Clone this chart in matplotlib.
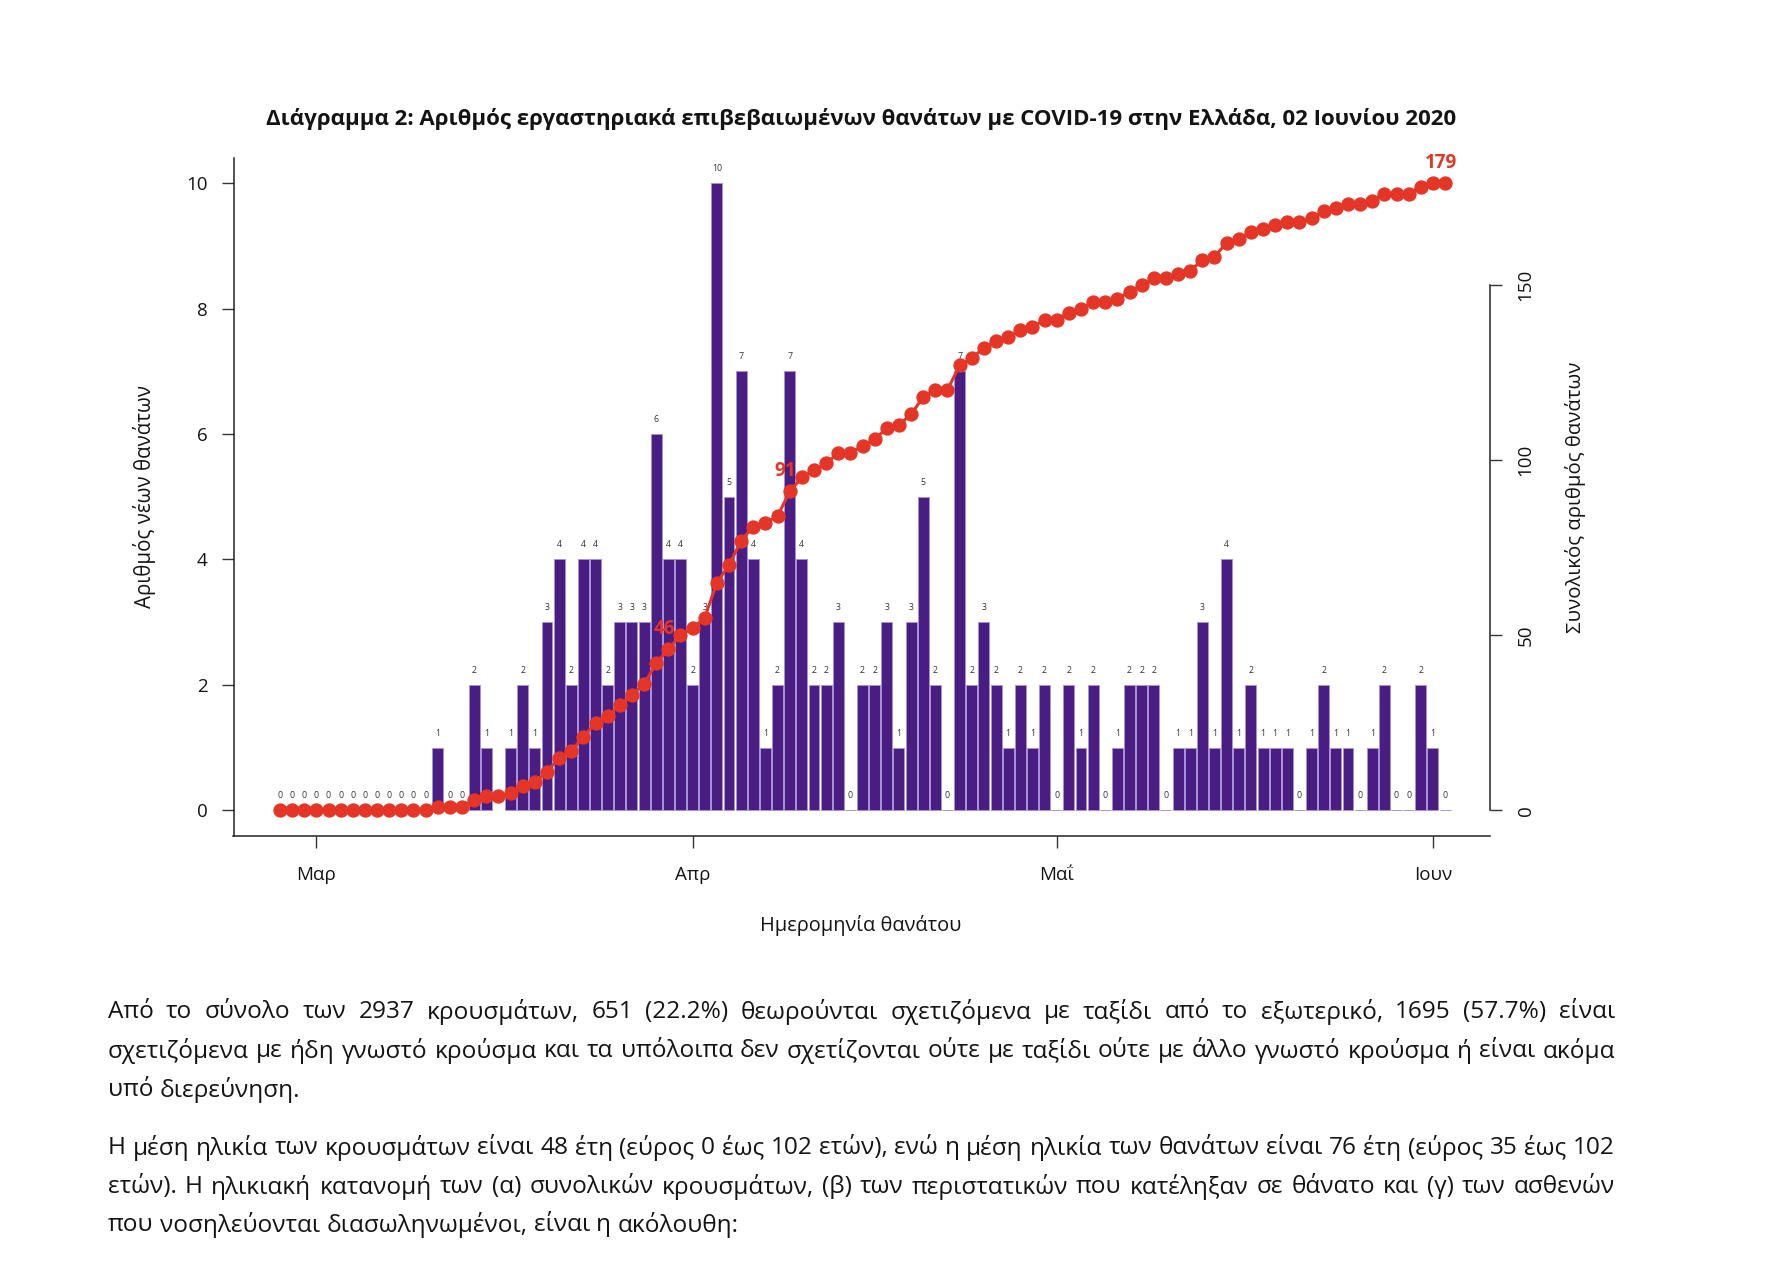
import numpy as np
import pandas as pd
import matplotlib
matplotlib.use('Agg')
import matplotlib.pyplot as plt
import matplotlib.dates as mdates

plt.rcParams['font.family'] = ['Open Sans', 'DejaVu Sans']

# daily deaths, 27 Feb - 2 Jun 2020 (nan = no value shown for that day)
dates = pd.date_range('2020-02-27', '2020-06-02', freq='D')
new_deaths = [0, 0, 0, 0, 0, 0, 0, 0, 0, 0,
              0, 0, 0, 1, 0, 0, 2, 1, np.nan, 1,
              2, 1, 3, 4, 2, 4, 4, 2, 3, 3,
              3, 6, 4, 4, 2, 3, 10, 5, 7, 4,
              1, 2, 7, 4, 2, 2, 3, 0, 2, 2,
              3, 1, 3, 5, 2, 0, 7, 2, 3, 2,
              1, 2, 1, 2, 0, 2, 1, 2, 0, 1,
              2, 2, 2, 0, 1, 1, 3, 1, 4, 1,
              2, 1, 1, 1, 0, 1, 2, 1, 1, 0,
              1, 2, 0, 0, 2, 1, 0]
total_deaths = [0, 0, 0, 0, 0, 0, 0, 0, 0, 0,
                0, 0, 0, 1, 1, 1, 3, 4, 4, 5,
                7, 8, 11, 15, 17, 21, 25, 27, 30, 33,
                36, 42, 46, 50, 52, 55, 65, 70, 77, 81,
                82, 84, 91, 95, 97, 99, 102, 102, 104, 106,
                109, 110, 113, 118, 120, 120, 127, 129, 132, 134,
                135, 137, 138, 140, 140, 142, 143, 145, 145, 146,
                148, 150, 152, 152, 153, 154, 157, 158, 162, 163,
                165, 166, 167, 168, 168, 169, 171, 172, 173, 173,
                174, 176, 176, 176, 178, 179, 179]
highlight = [32, 42, 96]  # days whose running total is written in red

month_ticks = ['2020-03-01', '2020-04-01', '2020-05-01', '2020-06-01']
month_labels = ['Μαρ', 'Απρ', 'Μαΐ', 'Ιουν']

title = ('Διάγραμμα 2: Αριθμός εργαστηριακά επιβεβαιωμένων θανάτων '
         'με COVID-19 στην Ελλάδα, 02 Ιουνίου 2020')
para1 = ['Από το σύνολο των 2937 κρουσμάτων, 651 (22.2%) θεωρούνται σχετιζόμενα με ταξίδι από το εξωτερικό, 1695 (57.7%) είναι',
         'σχετιζόμενα με ήδη γνωστό κρούσμα και τα υπόλοιπα δεν σχετίζονται ούτε με ταξίδι ούτε με άλλο γνωστό κρούσμα ή είναι ακόμα',
         'υπό διερεύνηση.']
para2 = ['Η μέση ηλικία των κρουσμάτων είναι 48 έτη (εύρος 0 έως 102 ετών), ενώ η μέση ηλικία των θανάτων είναι 76 έτη (εύρος 35 έως 102',
         'ετών).  Η ηλικιακή κατανομή των (α) συνολικών κρουσμάτων, (β) των περιστατικών που κατέληξαν σε θάνατο και (γ) των ασθενών',
         'που νοσηλεύονται διασωληνωμένοι, είναι η ακόλουθη:']

PURPLE = '#4a1d82'
EDGE = '#a993d8'
RED = '#e53526'
INK = '#141414'

W, H = 1786, 1261
fig = plt.figure(figsize=(W / 100, H / 100), dpi=100)


def fx(x):
    return x / W


def fy(y):
    return 1 - y / H


ax = fig.add_axes([fx(233.5), fy(835.5), (1490 - 233.5) / W, (835.5 - 158) / H])
ax2 = ax.twinx()

daily = np.array(new_deaths, dtype=float)
ax.bar(dates, daily, width=0.9, color=PURPLE, edgecolor=EDGE, linewidth=0.7)
for d, v in zip(dates, daily):
    if np.isnan(v):
        continue
    ax.annotate(str(int(v)), (d, v), xytext=(0, 10.5), textcoords='offset points',
                ha='center', va='center', fontsize=6.3, color='#333333')

ax2.plot(dates, total_deaths, color=RED, lw=2.2, marker='o', ms=9.3, zorder=3)
for i in highlight:
    ax2.annotate(str(total_deaths[i]), (dates[i], total_deaths[i]), xytext=(-3, 14.5),
                 textcoords='offset points', ha='center', va='center',
                 fontsize=13.5, fontweight='bold', color=RED)

x0 = mdates.date2num(dates[0])
x1 = mdates.date2num(dates[-1])
ax.set_xlim(x0 - 3.83, x1 + 3.7)
ax.set_ylim(-0.4, 10.4)
ax2.set_ylim(-0.04 * 179, 1.04 * 179)

ax.set_yticks([0, 2, 4, 6, 8, 10])
ax.set_xticks(pd.to_datetime(month_ticks))
ax.set_xticklabels(month_labels)
ax.tick_params(axis='both', length=8.6, width=1, color='#333333', labelsize=13.5, labelcolor=INK)
ax.tick_params(axis='y', pad=10)
ax.tick_params(axis='x', pad=13.5)

for s in ['top', 'right']:
    ax.spines[s].set_visible(False)
for s in ['left', 'bottom']:
    ax.spines[s].set_linewidth(1.1)
    ax.spines[s].set_color('#222222')

for s in ['top', 'left', 'bottom']:
    ax2.spines[s].set_visible(False)
ax2.spines['right'].set_bounds(0, 150)
ax2.spines['right'].set_linewidth(1.1)
ax2.spines['right'].set_color('#222222')
ax2.set_yticks([0, 50, 100, 150])
ax2.tick_params(axis='y', length=8.6, width=1, color='#333333', labelsize=13.5,
                labelcolor=INK, pad=10.5, labelrotation=90)
for lab in ax2.get_yticklabels():
    lab.set_va('center')

fig.text(fx(145), fy(497), 'Αριθμός νέων θανάτων', rotation=90, ha='center', va='center',
         fontsize=14.8, color=INK)
fig.text(fx(1575), fy(497), 'Συνολικός αριθμός θανάτων', rotation=90, ha='center', va='center',
         fontsize=14.7, color=INK)
fig.text(fx(861), fy(926), 'Ημερομηνία θανάτου', ha='center', va='center', fontsize=14.4, color=INK)
fig.text(fx(861), fy(119), title, ha='center', va='center', fontsize=16, fontweight='bold',
         color=INK)

# body text, justified between the page margins
renderer = fig.canvas.get_renderer()
LEFT, RIGHT = 108, 1615
BODY_FS = 17.6


def put_line(line, y, justify):
    words = line.split()
    texts = [fig.text(0, fy(y), w, fontsize=BODY_FS, va='center', ha='left', color=INK)
             for w in words]
    widths = [t.get_window_extent(renderer).width for t in texts]
    space = BODY_FS * 100 / 72 * 0.26
    if justify and len(words) > 1:
        gap = max((RIGHT - LEFT - sum(widths)) / (len(words) - 1), space * 0.6)
    else:
        gap = space
    x = LEFT
    for t, w in zip(texts, widths):
        t.set_x(fx(x))
        x += w + gap


for lines, ys in [(para1, [1012, 1051, 1090]), (para2, [1148, 1187, 1225])]:
    for k, (line, y) in enumerate(zip(lines, ys)):
        put_line(line, y, k < len(lines) - 1)

fig.savefig('out.png', dpi=100, facecolor='white')
